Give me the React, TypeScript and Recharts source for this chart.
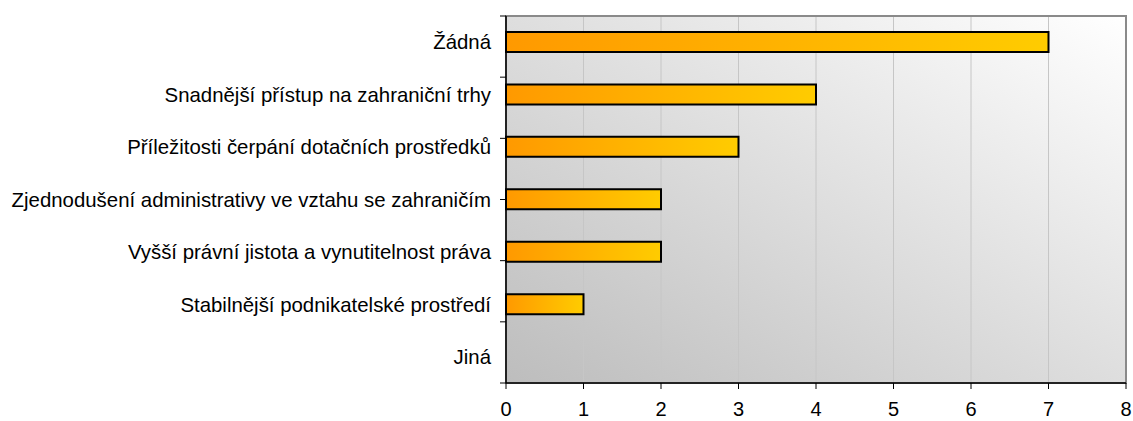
import React from 'react';
import { BarChart, Bar, XAxis, YAxis, CartesianGrid, ReferenceArea } from 'recharts';

const categories = [
  'Žádná',
  'Snadnější přístup na zahraniční trhy',
  'Příležitosti čerpání dotačních prostředků',
  'Zjednodušení administrativy ve vztahu se zahraničím',
  'Vyšší právní jistota a vynutitelnost práva',
  'Stabilnější podnikatelské prostředí',
  'Jiná',
];
const values = [7, 4, 3, 2, 2, 1, 0];
const xTicks = [0, 1, 2, 3, 4, 5, 6, 7, 8];
const bandTicks = [0, 1, 2, 3, 4, 5, 6, 7];

const data = categories.map((c, i) => ({ name: c, value: values[i] }));

const font = 'Arial, "Liberation Sans", sans-serif';

const XTick = (props: any) => {
  const { x, y, payload } = props;
  return (
    <text x={x} y={y} dy="0.71em" textAnchor="middle" fill="#000" fontSize={20} fontFamily={font}>
      {payload.value}
    </text>
  );
};

export default function App() {
  return (
    <div style={{ position: 'absolute', left: 0, top: 0, width: 1133, height: 421, background: '#fff' }}>
      <BarChart
        width={1133}
        height={421}
        data={data}
        layout="vertical"
        margin={{ top: 16, right: 7, bottom: 0, left: 0 }}
        barSize={20}
      >
        <defs>
          <linearGradient id="bg" x1="0" y1="1" x2="1" y2="0">
            <stop offset="0%" stopColor="#BDBDBD" />
            <stop offset="100%" stopColor="#FFFFFF" />
          </linearGradient>
          <linearGradient id="barGrad" x1="0" y1="0" x2="1" y2="0">
            <stop offset="0%" stopColor="#FF9900" />
            <stop offset="100%" stopColor="#FFCC00" />
          </linearGradient>
        </defs>
        <CartesianGrid horizontal={false} vertical={true} stroke="#C6C6C6" strokeWidth={1} fill="url(#bg)" />
        <ReferenceArea x1={0} x2={8} yAxisId="cat" fill="none" stroke="#8A8A8A" strokeWidth={2} ifOverflow="visible" />
        <XAxis
          type="number"
          domain={[0, 8]}
          ticks={xTicks}
          interval={0}
          height={38}
          tickSize={6}
          tickMargin={13}
          axisLine={{ stroke: '#000', strokeWidth: 1.5 }}
          tickLine={{ stroke: '#000', strokeWidth: 1 }}
          tick={<XTick />}
        />
        <YAxis
          yAxisId="band"
          type="number"
          domain={[0, 7]}
          ticks={bandTicks}
          interval={0}
          width={6}
          reversed
          tickFormatter={() => ''}
          tick={{ fill: 'none', fontSize: 1 }}
          tickSize={6}
          axisLine={{ stroke: '#000', strokeWidth: 1.5 }}
          tickLine={{ stroke: '#000', strokeWidth: 1 }}
        />
        <YAxis
          yAxisId="cat"
          type="category"
          dataKey="name"
          width={500}
          interval={0}
          tickSize={0}
          tickMargin={9}
          axisLine={false}
          tickLine={false}
          tick={{ fill: '#000', fontSize: 20.4, fontFamily: font }}
        />
        <Bar
          yAxisId="cat"
          dataKey="value"
          fill="url(#barGrad)"
          stroke="#000"
          strokeWidth={2}
          isAnimationActive={false}
        />
      </BarChart>
    </div>
  );
}
